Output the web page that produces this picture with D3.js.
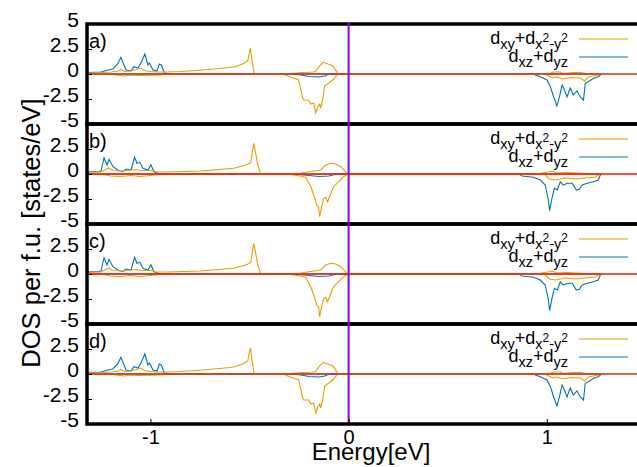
<!DOCTYPE html>
<html>
<head>
<meta charset="utf-8">
<script src="https://cdn.jsdelivr.net/npm/d3@7"></script>
<style>
  body { margin: 0; background: #fff; }
  svg { display: block; font-family: "Liberation Sans", Arial, sans-serif; }
</style>
</head>
<body>
<svg width="637" height="467"></svg>
<script>
const energyTicks = [-1, 0, 1];
const dosTicks = [2.5, 0, -2.5, -5];
const panelLabels = ["a)", "b)", "c)", "d)"];

// panel a (d is the same)
const aOrangeUp = [[-1.32,0.12],[-1.25,0.15],[-1.2,0.2],[-1.16,0.3],[-1.149,0.45],[-1.13,0.25],[-1.1,0.3],[-1.07,0.45],[-1.048,0.6],[-1.03,0.35],[-1.0,0.25],[-0.97,0.2],[-0.92,0.2],[-0.85,0.25],[-0.75,0.38],[-0.65,0.55],[-0.6,0.65],[-0.569,0.75],[-0.53,1.05],[-0.509,1.3],[-0.496,2.6],[-0.486,1.2],[-0.476,0],[-0.33,0],[-0.25,0.12],[-0.18,0.2],[-0.166,0.25],[-0.15,0.73],[-0.127,1.17],[-0.112,1.05],[-0.101,0.97],[-0.09,0.9],[-0.076,0.73],[-0.06,0.23],[-0.055,0],[0.95,0],[1.02,0.1],[1.033,0.2],[1.068,0.2],[1.08,0.05],[1.134,0.15],[1.169,0.15],[1.2,0.05],[1.27,0]];
const aOrangeDown = [[-1.32,0],[-1.2,-0.05],[-1.13,-0.2],[-1.1,-0.1],[-1.06,-0.15],[-1.0,-0.12],[-0.95,-0.1],[-0.9,0],[-0.33,0],[-0.292,-0.33],[-0.252,-0.6],[-0.232,-2.4],[-0.227,-2.6],[-0.202,-2.6],[-0.191,-3.0],[-0.176,-2.9],[-0.166,-3.9],[-0.156,-3.3],[-0.146,-3.0],[-0.141,-3.4],[-0.131,-2.6],[-0.121,-1.2],[-0.101,-0.93],[-0.076,-0.53],[-0.06,-0.1],[-0.055,0],[0.99,0],[1.0,-0.1],[1.03,-0.4],[1.05,-0.3],[1.08,-0.5],[1.12,-0.35],[1.17,-0.4],[1.19,-0.7],[1.21,-0.3],[1.26,-0.1],[1.28,0]];
const aBlueUp = [[-1.32,0.15],[-1.25,0.2],[-1.214,0.4],[-1.19,0.5],[-1.165,1.0],[-1.149,1.67],[-1.123,0.4],[-1.098,0.3],[-1.083,0.73],[-1.063,0.6],[-1.048,1.1],[-1.028,2.0],[-1.013,0.9],[-1.005,1.1],[-0.987,0.4],[-0.967,0.3],[-0.955,1.0],[-0.945,0.9],[-0.93,0.1],[-0.9,0],[1.27,0]];
const aBlueDown = [[-1.32,0],[-0.3,0],[-0.24,-0.1],[-0.2,-0.25],[-0.15,-0.3],[-0.12,-0.2],[-0.1,0],[0.94,0],[0.942,-0.1],[0.967,-0.27],[1.001,-0.6],[1.018,-1.27],[1.034,-2.27],[1.051,-3.2],[1.064,-2.27],[1.077,-1.1],[1.085,-1.4],[1.102,-2.3],[1.118,-1.4],[1.134,-2.1],[1.152,-1.7],[1.169,-2.3],[1.185,-2.6],[1.194,-0.93],[1.209,-0.77],[1.236,-0.43],[1.259,-0.27],[1.27,-0.1],[1.275,0]];

// panel b (c is the same)
const bOrangeUp = [[-1.32,0.15],[-1.25,0.2],[-1.21,0.6],[-1.19,0.35],[-1.14,0.3],[-1.08,0.45],[-1.04,0.35],[-1.0,0.35],[-0.97,0.2],[-0.92,0.2],[-0.746,0.3],[-0.579,0.57],[-0.519,0.9],[-0.494,1.13],[-0.479,3.07],[-0.469,2.07],[-0.458,0.9],[-0.443,0],[-0.3,0],[-0.242,0.1],[-0.141,0.4],[-0.116,0.9],[-0.091,1.07],[-0.065,1.0],[-0.04,0.73],[-0.015,0.23],[-0.005,0],[0.95,0],[0.99,0.15],[1.03,0.3],[1.05,0.1],[1.1,0.15],[1.2,0.05],[1.27,0]];
const bOrangeDown = [[-1.32,0],[-1.24,-0.05],[-1.2,-0.2],[-1.15,-0.25],[-1.1,-0.15],[-1.05,-0.25],[-1.0,-0.15],[-0.95,-0.05],[-0.9,0],[-0.31,0],[-0.26,-0.15],[-0.217,-0.33],[-0.191,-1.27],[-0.176,-2.1],[-0.161,-3.1],[-0.151,-3.33],[-0.146,-4.27],[-0.136,-3.2],[-0.127,-2.5],[-0.116,-2.33],[-0.106,-2.77],[-0.091,-2.0],[-0.076,-1.27],[-0.05,-0.77],[-0.025,-0.27],[-0.005,0],[0.98,0],[0.992,-0.1],[1.013,-0.5],[1.043,-0.6],[1.093,-0.4],[1.144,-0.5],[1.194,-0.4],[1.244,-0.3],[1.27,0]];
const bBlueUp = [[-1.32,0.2],[-1.26,0.25],[-1.249,0.33],[-1.234,1.63],[-1.219,0.9],[-1.209,1.47],[-1.189,0.73],[-1.164,0.4],[-1.139,0.23],[-1.123,0.5],[-1.098,0.4],[-1.08,1.67],[-1.068,1.07],[-1.053,1.17],[-1.038,0.57],[-1.013,0.4],[-0.997,0.9],[-0.982,0.23],[-0.957,0.05],[-0.922,0],[1.27,0]];
const bBlueDown = [[-1.32,0],[-0.28,0],[-0.2,-0.15],[-0.15,-0.25],[-0.1,-0.2],[-0.06,0],[0.86,0],[0.875,-0.2],[0.932,-0.33],[0.967,-0.6],[0.992,-1.1],[1.008,-2.6],[1.014,-3.67],[1.026,-2.43],[1.038,-1.43],[1.053,-1.6],[1.068,-0.77],[1.083,-1.1],[1.103,-0.93],[1.128,-0.93],[1.149,-1.6],[1.164,-1.53],[1.179,-1.1],[1.204,-0.93],[1.234,-0.77],[1.259,-0.6],[1.27,-0.1],[1.275,0]];

const panels = [
  { orange: [aOrangeUp, aOrangeDown], blue: [aBlueUp, aBlueDown], zero: "#d2301c" },
  { orange: [bOrangeUp, bOrangeDown], blue: [bBlueUp, bBlueDown], zero: "#ff1500" },
  { orange: [bOrangeUp, bOrangeDown], blue: [bBlueUp, bBlueDown], zero: "#ff1500" },
  { orange: [aOrangeUp, aOrangeDown], blue: [aBlueUp, aBlueDown], zero: "#d2301c" }
];

const orange = "#e69f00", blue = "#0072b2";
const left = 87, right = 640, top0 = 24, panelH = 100;
const fmt = d => String(d); // plain hyphen minus, like gnuplot

const svg = d3.select("svg");

const x = d3.scaleLinear().domain([-1.32, 1.455]).range([left, left + 550]);

svg.append("clipPath").attr("id", "clip")
  .append("rect").attr("x", left).attr("y", top0).attr("width", right - left).attr("height", panelH * 4);

panels.forEach((p, i) => {
  const top = top0 + i * panelH;
  const y = d3.scaleLinear().domain([-5, 5]).range([top + panelH, top]);
  const g = svg.append("g");

  const line = d3.line().x(d => x(d[0])).y(d => y(d[1]));
  const curves = g.append("g").attr("clip-path", "url(#clip)");
  p.blue.forEach(s => curves.append("path").attr("d", line(s))
    .attr("fill", "none").attr("stroke", blue).attr("stroke-width", 1.1));
  p.orange.forEach(s => curves.append("path").attr("d", line(s))
    .attr("fill", "none").attr("stroke", orange).attr("stroke-width", 1.1));

  // zero line
  g.append("line").attr("x1", left).attr("x2", right)
    .attr("y1", y(0)).attr("y2", y(0))
    .attr("stroke", p.zero).attr("stroke-width", 1.5);

  // y axis
  const yAxis = d3.axisLeft(y).tickValues(i === 0 ? [5].concat(dosTicks) : dosTicks)
    .tickSize(-5).tickPadding(0).tickFormat(fmt);
  const ya = g.append("g").attr("transform", `translate(${left},0)`).call(yAxis);
  ya.select(".domain").remove();
  ya.selectAll("line").attr("stroke", "#000").attr("stroke-width", 1);
  ya.selectAll("text")
    .attr("x", -8).attr("dy", null).attr("y", 2)
    .attr("font-size", 21).attr("font-family", "Liberation Sans, Arial, sans-serif")
    .attr("fill", "#000");

  // frame
  g.append("rect").attr("x", left).attr("y", top)
    .attr("width", right - left + 10).attr("height", panelH)
    .attr("fill", "none").attr("stroke", "#000").attr("stroke-width", 3.5);

  g.append("text").attr("x", left + 2).attr("y", top + 24)
    .attr("font-size", 20).text(panelLabels[i]);

  // legend
  const lg = g.append("g");
  const t1 = lg.append("text").attr("x", 568).attr("y", top + 20).attr("text-anchor", "end").attr("font-size", 18);
  t1.append("tspan").text("d");
  t1.append("tspan").attr("dy", 5).attr("font-size", 14.5).text("xy");
  t1.append("tspan").attr("dy", -5).text("+d");
  t1.append("tspan").attr("dy", 5).attr("font-size", 14.5).text("x");
  t1.append("tspan").attr("dy", -7).attr("font-size", 12).text("2");
  t1.append("tspan").attr("dy", 7).attr("font-size", 14.5).text("-y");
  t1.append("tspan").attr("dy", -7).attr("font-size", 12).text("2");
  lg.append("line").attr("x1", 579).attr("x2", 628).attr("y1", top + 15).attr("y2", top + 15)
    .attr("stroke", orange).attr("stroke-width", 1.1);

  const t2 = lg.append("text").attr("x", 568).attr("y", top + 38).attr("text-anchor", "end").attr("font-size", 18);
  t2.append("tspan").text("d");
  t2.append("tspan").attr("dy", 5).attr("font-size", 14.5).text("xz");
  t2.append("tspan").attr("dy", -5).text("+d");
  t2.append("tspan").attr("dy", 5).attr("font-size", 14.5).text("yz");
  lg.append("line").attr("x1", 579).attr("x2", 628).attr("y1", top + 33).attr("y2", top + 33)
    .attr("stroke", blue).attr("stroke-width", 1.1);
});

// Fermi level
svg.append("line").attr("x1", x(0)).attr("x2", x(0))
  .attr("y1", top0 - 2).attr("y2", top0 + panelH * 4 - 2)
  .attr("stroke", "#9400d3").attr("stroke-width", 2);

// x axis
const bottom = top0 + panelH * 4;
const xAxis = d3.axisBottom(x).tickValues(energyTicks).tickSize(-5).tickPadding(0).tickFormat(fmt);
const xa = svg.append("g").attr("transform", `translate(0,${bottom})`).call(xAxis);
xa.select(".domain").remove();
xa.selectAll("line").attr("stroke", "#000");
xa.selectAll("text").attr("y", 20).attr("dy", null)
  .attr("font-size", 20).attr("font-family", "Liberation Sans, Arial, sans-serif").attr("fill", "#000");

svg.append("text").attr("x", 371).attr("y", 460).attr("text-anchor", "middle")
  .attr("font-size", 24).text("Energy[eV]");

svg.append("text").attr("transform", "translate(40,233) rotate(-90)")
  .attr("text-anchor", "middle").attr("font-size", 25.5).text("DOS per f.u. [states/eV]");
</script>
</body>
</html>
